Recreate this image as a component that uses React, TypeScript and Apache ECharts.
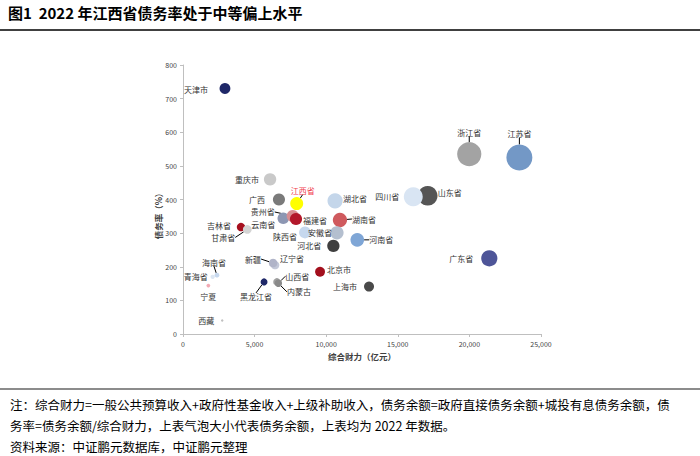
import React, { useEffect, useRef } from "react";
import * as echarts from "echarts";

// ---------- data ----------
const provinces = [
  "天津市", "重庆市", "广西", "江西省", "云南省", "贵州省", "福建省", "吉林省", "甘肃省",
  "湖北省", "湖南省", "陕西省", "安徽省", "河北省", "河南省", "山东省", "四川省", "浙江省",
  "江苏省", "广东省", "北京市", "上海市", "辽宁省", "新疆", "内蒙古", "山西省", "黑龙江省",
  "海南省", "青海省", "宁夏", "西藏",
];
// 综合财力（亿元）
const fiscalStrength = [
  2930, 6080, 6700, 7940, 7000, 7660, 7890, 4050, 4490,
  10620, 10960, 8520, 10750, 10500, 12170, 17090, 16080, 19990,
  23490, 21390, 9570, 12990, 6430, 6290, 6560, 6660, 5660,
  2370, 2070, 1770, 2740,
];
// 债务率（%）
const debtRatio = [
  730, 460, 400, 388, 344, 351, 342, 318, 311,
  396, 339, 302, 301, 262, 280, 411, 408, 535,
  525, 225, 185, 141, 205, 211, 155, 151, 155,
  175, 170, 144, 40,
];
// 债务余额（亿元）— bubble size
const debtBalance = [
  21400, 28000, 26800, 30800, 24100, 26900, 27000, 12900, 14000,
  42100, 37200, 25700, 32400, 27500, 34100, 70200, 65600, 106900,
  123300, 48100, 17700, 18300, 13200, 13300, 10200, 10100, 8800,
  4100, 3500, 2500, 1100,
];
const xTickLabels = ["0", "5,000", "10,000", "15,000", "20,000", "25,000"];
const yTickLabels = ["0", "100", "200", "300", "400", "500", "600", "700", "800"];

// ---------- styles ----------
const bubbleColors: Record<string, string> = {
  "天津市": "#1f2868", "重庆市": "#c9c9c9", "广西": "#7a7a7a", "江西省": "#ffff00",
  "云南省": "#8d97b3", "贵州省": "#d88e92", "福建省": "#b3182b", "吉林省": "#a6101f",
  "甘肃省": "#d4d4d4", "湖北省": "#c4d6ea", "湖南省": "#cf5a5e", "陕西省": "#c6d8ee",
  "安徽省": "#b4bfcf", "河北省": "#3f3f3f", "河南省": "#7fa6d6", "山东省": "#555555",
  "四川省": "#d9e5f3", "浙江省": "#a3a3a3", "江苏省": "#7398c6", "广东省": "#4e5598",
  "北京市": "#a30f1d", "上海市": "#4a4a4a", "辽宁省": "#c3c8d8", "新疆": "#b0b4c8",
  "内蒙古": "#a0a0a0", "山西省": "#8a8a8a", "黑龙江省": "#1f2868", "海南省": "#c6d8ee",
  "青海省": "#dce6f2", "宁夏": "#f2aab4", "西藏": "#c0c0c0",
};
// label centre offset from bubble centre [dx, dy, leaderLine]
const labelOffsets: Record<string, [number, number, boolean]> = {
  "天津市": [-29, 1, false], "重庆市": [-23, 0, false], "广西": [-22, 0, false],
  "江西省": [6, -13, true], "云南省": [-20, 6, false], "贵州省": [-30, -4, true],
  "福建省": [19, 1, false], "吉林省": [-22, -2, false], "甘肃省": [-24, 8, true],
  "湖北省": [20, -2, false], "湖南省": [24, -1, true], "陕西省": [-20, 4, false],
  "安徽省": [-17, 0, false], "河北省": [-24, 0, false], "河南省": [24, 0, true],
  "山东省": [22, -3, false], "四川省": [-26, 0, false], "浙江省": [0, -22, true],
  "江苏省": [0, -24, true], "广东省": [-28, 0, false], "北京市": [19, -2, false],
  "上海市": [-24, 0, false], "辽宁省": [17, -7, false], "新疆": [-20, -4, true],
  "内蒙古": [22, 10, true], "山西省": [19, -7, true], "黑龙江省": [-8, 15, true],
  "海南省": [-3, -13, true], "青海省": [-17, 0, false], "宁夏": [0, 11, false],
  "西藏": [-16, 0, false],
};

const FONT = '"Noto Sans CJK SC", "Noto Sans", sans-serif';

export default function App() {
  const ref = useRef<HTMLDivElement>(null);
  useEffect(() => {
    document.body.style.margin = "0";
    if (!ref.current) return;
    const chart = echarts.init(ref.current, undefined, { renderer: "svg" });

    const data = provinces.map((name, i) => {
      const off = labelOffsets[name];
      return {
        name,
        value: [fiscalStrength[i], debtRatio[i], debtBalance[i]],
        itemStyle: { color: bubbleColors[name], opacity: 1 },
        label: name === "江西省" ? { color: "#f0404f" } : undefined,
        labelLine: { show: off[2] },
      };
    });

    chart.setOption({
      animation: false,
      backgroundColor: "#ffffff",
      textStyle: { fontFamily: FONT },
      grid: { left: 183, right: 159, top: 65, bottom: 122 },
      xAxis: {
        type: "value",
        min: 0,
        max: 25000,
        interval: 5000,
        splitLine: { show: false },
        axisLine: { show: true, lineStyle: { color: "#bfbfbf", width: 1 } },
        axisTick: { show: true, length: 3, lineStyle: { color: "#bfbfbf" } },
        axisLabel: {
          fontSize: 7,
          color: "#404040",
          margin: 6,
          formatter: (v: number) => xTickLabels[Math.round(v / 5000)] ?? "",
        },
      },
      yAxis: {
        type: "value",
        min: 0,
        max: 800,
        interval: 100,
        splitLine: { show: false },
        axisLine: { show: true, lineStyle: { color: "#bfbfbf", width: 1 } },
        axisTick: { show: true, length: 3, lineStyle: { color: "#bfbfbf" } },
        axisLabel: {
          fontSize: 7,
          color: "#404040",
          margin: 6,
          formatter: (v: number) => yTickLabels[Math.round(v / 100)] ?? "",
        },
      },
      series: [
        {
          type: "scatter",
          data,
          symbolSize: (val: number[]) => Math.sqrt(val[2]) * 0.074,
          itemStyle: { opacity: 1 },
          label: {
            show: true,
            position: "inside",
            formatter: "{b}",
            fontSize: 8,
            color: "#333333",
            fontFamily: FONT,
          },
          labelLine: {
            show: false,
            lineStyle: { color: "#000000", width: 1 },
          },
          labelLayout: (params: any) => {
            const name = provinces[params.dataIndex];
            const off = labelOffsets[name];
            return { dx: off[0], dy: off[1], hideOverlap: false };
          },
          emphasis: { disabled: true },
        },
      ],
      graphic: [
        {
          type: "text",
          left: 8,
          top: 5,
          style: {
            text: "图1  2022 年江西省债务率处于中等偏上水平",
            font: `bold 15px ${FONT}`,
            fill: "#000000",
          },
        },
        {
          type: "line",
          shape: { x1: 0, y1: 30, x2: 700, y2: 30 },
          style: { stroke: "#000000", lineWidth: 1.5 },
        },
        {
          type: "text",
          x: 158,
          y: 214,
          rotation: Math.PI / 2,
          style: {
            text: "债务率（%）",
            font: `bold 8.5px ${FONT}`,
            fill: "#404040",
            align: "center",
            verticalAlign: "middle",
          },
        },
        {
          type: "text",
          x: 362,
          y: 356,
          style: {
            text: "综合财力（亿元）",
            font: `bold 8.5px ${FONT}`,
            fill: "#404040",
            align: "center",
            verticalAlign: "middle",
          },
        },
        {
          type: "line",
          shape: { x1: 0, y1: 389, x2: 700, y2: 389 },
          style: { stroke: "#8c8c8c", lineWidth: 2 },
        },
        {
          type: "text",
          x: 10,
          y: 404,
          style: {
            text: "注：综合财力=一般公共预算收入+政府性基金收入+上级补助收入，债务余额=政府直接债务余额+城投有息债务余额，债",
            font: `12.5px ${FONT}`,
            fill: "#000000",
            verticalAlign: "middle",
          },
        },
        {
          type: "text",
          x: 10,
          y: 425,
          style: {
            text: "务率=债务余额/综合财力，上表气泡大小代表债务余额，上表均为 2022 年数据。",
            font: `12.5px ${FONT}`,
            fill: "#000000",
            verticalAlign: "middle",
          },
        },
        {
          type: "text",
          x: 10,
          y: 446,
          style: {
            text: "资料来源：中证鹏元数据库，中证鹏元整理",
            font: `12.5px ${FONT}`,
            fill: "#000000",
            verticalAlign: "middle",
          },
        },
      ],
    });
    return () => chart.dispose();
  }, []);
  return <div ref={ref} style={{ width: 700, height: 456 }} />;
}
